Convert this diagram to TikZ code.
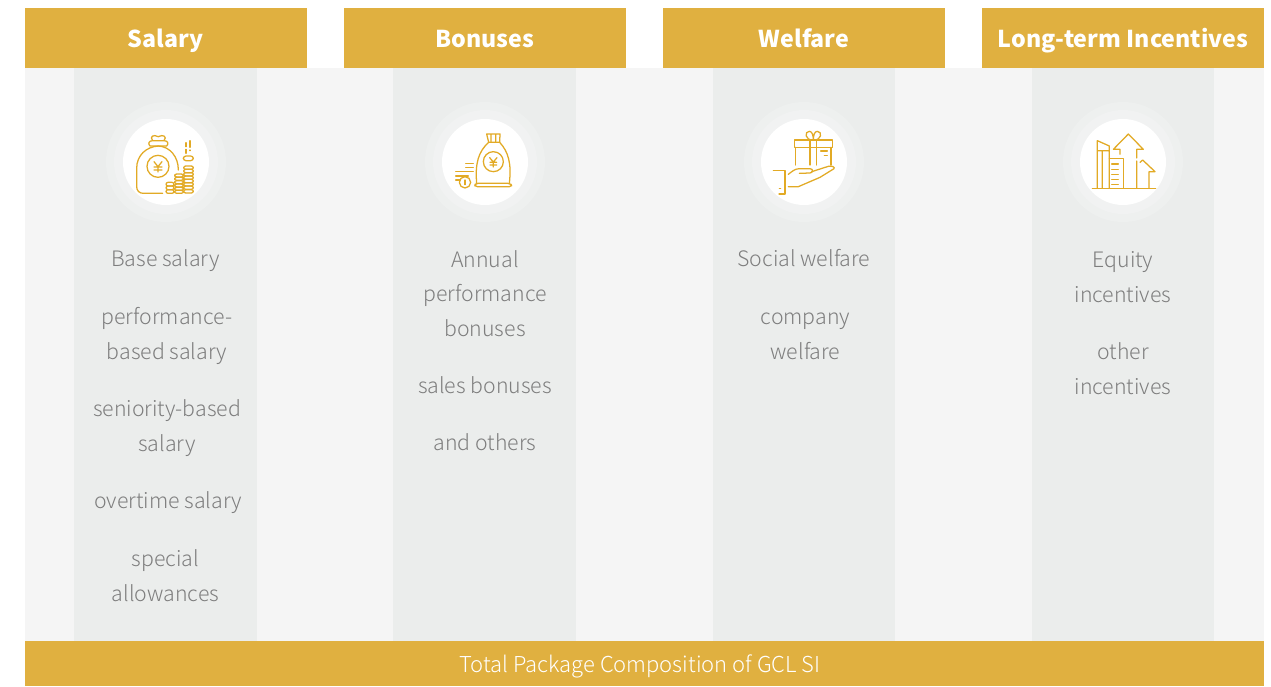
\documentclass[tikz,border=0pt]{standalone}
\usepackage{fontspec}
\setmainfont{Noto Sans CJK SC}
\newfontfamily\lightfont{Noto Sans CJK SC Light}
\definecolor{gold}{HTML}{E0B040}
\definecolor{bgpanel}{HTML}{F5F5F5}
\definecolor{colband}{HTML}{EBEDEC}
\definecolor{halo1}{HTML}{EEF0EF}
\definecolor{halo2}{HTML}{F1F2F2}
\definecolor{ink}{HTML}{E2AA25}
\definecolor{bodytext}{HTML}{7E7E7E}
\tikzset{
  x=0.75pt,y=-0.75pt,
  header/.style={fill=gold,draw=none},
  headtext/.style={text=white,font=\fontsize{17.4}{26}\selectfont\bfseries,inner sep=0pt,anchor=center},
  band/.style={fill=colband,draw=none},
  item/.style={text=bodytext,font=\lightfont\fontsize{15.95}{26.1}\selectfont,align=center,inner sep=0pt,anchor=center},
  foot/.style={text=white,font=\lightfont\fontsize{16.45}{26.1}\selectfont,inner sep=0pt,anchor=center},
  icon/.style={draw=ink,line width=0.95pt,line join=round,line cap=round},
  iconframe/.style={x=0.25pt,y=-0.25pt,shift={(#1,270)}}
}
\newcommand{\haloat}[1]{%
  \fill[halo1] (#1,162) circle[radius=60];
  \fill[halo2] (#1,162) circle[radius=52];
  \fill[white] (#1,162) circle[radius=43];
}
\begin{document}
\begin{tikzpicture}
\useasboundingbox (0,0) rectangle (1271,686);
\fill[white] (0,0) rectangle (1271,686);
\fill[bgpanel] (25,68) rectangle (1264,641);
\foreach \a/\b in {74/257,393/576,713/895,1032/1214}
  \fill[band] (\a,68) rectangle (\b,641);
\foreach \a/\b in {25/307,344/626,663/945,982/1264}
  \fill[header] (\a,8) rectangle (\b,68);
\fill[header] (25,641) rectangle (1264,686);
\node[headtext] (hsalary) at (165.5,41) {\strut Salary};
\node[headtext] (hbonus) at (485,41) {\strut Bonuses};
\node[headtext] (hwelfare) at (804,41) {\strut Welfare};
\node[headtext] (hlong) at (1123,41) {\strut Long-term Incentives};
\node[foot] (footer) at (640,666) {\strut Total Package Composition of GCL SI};
\haloat{166}\haloat{485}\haloat{804}\haloat{1123}
% salary icon
\begin{scope}[iconframe=270]
\draw[icon] (218,310) -- (160,310) .. controls (148,310) and (140,302) .. (140,290) -- (140,235) .. controls (140,195) and (170,170) .. (205,168) .. controls (240,170) and (265,200) .. (265,240);
\draw[icon] (180,168) -- (230,168) (180,168) .. controls (172,160) and (178,152) .. (188,152) .. controls (178,140) and (190,132) .. (205,140) .. controls (220,132) and (232,140) .. (222,152) .. controls (232,152) and (238,160) .. (230,168) (188,152) -- (222,152);
\draw[icon] (204,229) circle[radius=33];
\draw[icon] (192,215) -- (204,230) -- (216,215) (192,231) -- (216,231) (192,240) -- (216,240) (204,230) -- (204,246);
\foreach \y in {277,288,299} \draw[icon,rounded corners=1.5pt] (228,\y) rectangle (252,\y+11);
\foreach \y in {252,262,272,282,292,301} \draw[icon,rounded corners=1.5pt] (254,\y) rectangle (280,\y+9);
\foreach \y in {228,238,248,258,268,278,288,299} \draw[icon,rounded corners=1.5pt] (281,\y) rectangle (310,\y+10);
\draw[icon,rounded corners=2pt] (280,198) rectangle (310,212);
\draw[icon] (288,158) -- (288,170) (288,178) -- (288,190) (300,152) -- (300,172) (300,180) -- (300,182);
\end{scope}
% bonus icon
\begin{scope}[iconframe=1230]
\draw[icon] (200,280) .. controls (195,220) and (205,185) .. (236,157) -- (269,157) .. controls (295,185) and (305,220) .. (298,280);
\draw[icon,rounded corners=2pt] (196,280) -- (302,280) -- (306,290) -- (194,290) -- cycle;
\draw[icon] (236,157) -- (230,132) -- (270,132) -- (269,157) (243,134) -- (243,155) (257,134) -- (257,155);
\draw[icon] (250,215) circle[radius=30];
\draw[icon] (239,203) -- (250,216) -- (261,203) (240,217) -- (260,217) (240,225) -- (260,225) (250,216) -- (250,231);
\draw[icon] (165,277) circle[radius=17];
\draw[icon] (165,270) -- (165,284);
\draw[icon] (167,220) -- (190,220) (167,233) -- (190,233) (137,245) -- (190,245) (137,258) -- (175,258) (137,270) -- (150,270);
\end{scope}
% welfare icon
\begin{scope}[iconframe=2190]
\draw[icon] (193,150) rectangle (307,172);
\draw[icon] (197,172) -- (197,225) (303,172) -- (303,225) (240,150) -- (240,225) (260,150) -- (260,225);
\draw[icon] (250,150) .. controls (225,152) and (222,124) .. (238,124) .. controls (246,124) and (250,135) .. (250,150) .. controls (250,135) and (254,124) .. (262,124) .. controls (278,124) and (275,152) .. (250,150);
\draw[icon] (272,183) -- (292,183) (283,197) -- (292,197);
\draw[icon] (130,241) -- (165,241) -- (165,312) -- (147,312) (148,295) -- (152,295);
\draw[icon] (175,253) .. controls (185,245) and (195,236) .. (208,236) -- (240,236) .. controls (250,236) and (250,248) .. (240,249) -- (208,250);
\draw[icon] (245,245) -- (295,229) .. controls (305,226) and (316,232) .. (312,236) -- (270,262) -- (205,290) -- (175,290);
\end{scope}
% long-term icon
\begin{scope}[iconframe=3150]
\draw[icon] (127,295) -- (317,295);
\draw[icon] (142,295) -- (142,152) -- (178,168) -- (178,295) (142,182) -- (178,182) (157,182) -- (157,295);
\draw[icon] (178,205) -- (220,205) -- (220,295);
\draw[icon] (185,222) -- (205,222) (185,238) -- (205,238) (185,253) -- (205,253) (185,268) -- (205,268) (185,284) -- (205,284);
\draw[icon] (210,193) -- (210,178) -- (190,178) -- (235,132) -- (280,178) -- (260,178) -- (260,204) (260,213) -- (260,295);
\draw[icon] (270,217) -- (278,210) -- (315,245) -- (297,245) -- (297,295);
\end{scope}
% salary items
\node[item] (s1) at (165.5,260) {\strut Base salary};
\node[item] (s2) at (167,335) {\strut performance-\\\strut based salary};
\node[item] (s3) at (167,427) {\strut seniority-based\\\strut salary};
\node[item] (s4) at (168,502) {\strut overtime salary};
\node[item] (s5) at (165.5,577) {\strut special\\\strut allowances};
% bonus items
\node[item] (b1) at (485,295) {\strut Annual\\\strut performance\\\strut bonuses};
\node[item] (b2) at (485,387) {\strut sales bonuses};
\node[item] (b3) at (485,444) {\strut and others};
% welfare items
\node[item] (w1) at (804,260) {\strut Social welfare};
\node[item] (w2) at (805.5,335) {\strut company\\\strut welfare};
% incentives
\node[item] (i1) at (1123,278) {\strut Equity\\\strut incentives};
\node[item] (i2) at (1123,370) {\strut other\\\strut incentives};
\end{tikzpicture}
\end{document}
